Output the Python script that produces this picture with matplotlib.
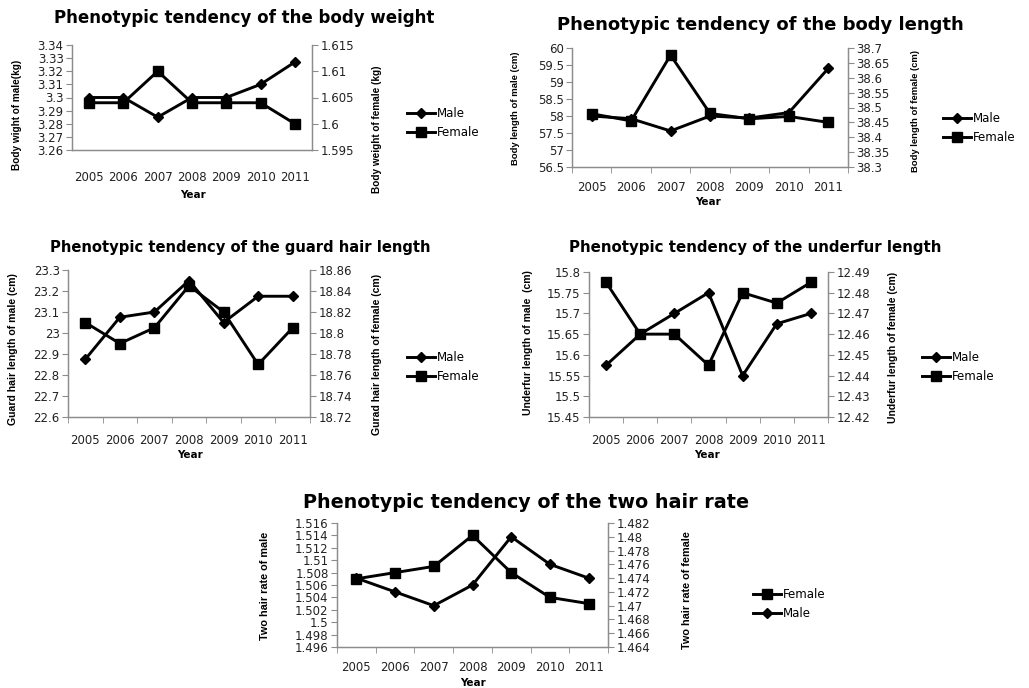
import matplotlib
matplotlib.use("Agg")
import matplotlib.pyplot as plt
from matplotlib.lines import Line2D

W, H = 1029, 688

years = ["2005", "2006", "2007", "2008", "2009", "2010", "2011"]

# body weight
bw_male = [3.300, 3.300, 3.285, 3.300, 3.300, 3.310, 3.327]
bw_female = [1.604, 1.604, 1.610, 1.604, 1.604, 1.604, 1.600]
# body length
bl_male = [58.0, 57.92, 57.56, 58.0, 57.94, 58.1, 59.4]
bl_female = [38.479, 38.455, 38.676, 38.48, 38.462, 38.47, 38.45]
# guard hair length
gh_male = [22.875, 23.075, 23.10, 23.25, 23.05, 23.175, 23.175]
gh_female = [18.81, 18.79, 18.805, 18.845, 18.82, 18.77, 18.805]
# underfur length
uf_male = [15.575, 15.65, 15.70, 15.75, 15.55, 15.675, 15.70]
uf_female = [12.485, 12.46, 12.46, 12.445, 12.48, 12.475, 12.485]
# two hair rate
th_female = [1.507, 1.508, 1.509, 1.514, 1.508, 1.504, 1.503]
th_male = [1.474, 1.472, 1.470, 1.473, 1.480, 1.476, 1.474]

TICK_FONT = "DejaVu Sans"
LABEL_FONT = ["Liberation Sans", "DejaVu Sans"]
SPINE = "#8c8c8c"
TS = 8.5


def fx(px):
    return px / W


def fy(py):
    return 1 - py / H


def make_axes(fig, box):
    l, t, r, b = box
    return fig.add_axes([fx(l), fy(b), fx(r) - fx(l), fy(t) - fy(b)])


def style_axes(ax, ax2, ylim, yticks, ylim2, yticks2, xticks_marks, xpad):
    n = len(years)
    for a in (ax, ax2):
        a.set_xlim(-0.5, n - 0.5)
        a.spines["top"].set_visible(False)
        for s in ("left", "right", "bottom"):
            a.spines[s].set_color(SPINE)
            a.spines[s].set_linewidth(0.9)
        a.patch.set_visible(False)
    ax.set_ylim(*ylim)
    ax.set_yticks(yticks)
    ax.set_yticklabels([f"{v:g}" for v in yticks])
    ax2.set_ylim(*ylim2)
    ax2.set_yticks(yticks2)
    ax2.set_yticklabels([f"{v:g}" for v in yticks2])
    ax.set_xticks(range(n))
    ax.set_xticklabels(years)
    ax.tick_params(axis="x", length=0, pad=xpad, labelsize=TS, colors="#222222")
    if xticks_marks:
        ax.set_xticks([i - 0.5 for i in range(n + 1)], minor=True)
        ax.tick_params(axis="x", which="minor", length=4, color=SPINE)
    ax.tick_params(axis="y", length=4, color=SPINE, labelsize=TS, labelcolor="#222222", pad=2)
    ax2.tick_params(axis="y", length=4, color=SPINE, labelsize=TS, labelcolor="#222222", pad=2)
    for lab in ax.get_xticklabels() + ax.get_yticklabels() + ax2.get_yticklabels():
        lab.set_family(TICK_FONT)


def draw_lines(ax, ax2, left_vals, right_vals, left_marker, right_marker):
    x = range(len(years))
    ms = {"D": 5, "s": 7.5}
    ax.plot(x, left_vals, color="black", lw=2.1, marker=left_marker, ms=ms[left_marker], clip_on=False)
    ax2.plot(x, right_vals, color="black", lw=2.1, marker=right_marker, ms=ms[right_marker], clip_on=False)


def add_legend(fig, labels, markers, xpx, ypx):
    ms = {"D": 5, "s": 7.5}
    handles = [Line2D([], [], color="black", lw=2.1, marker=m, ms=ms[m]) for m in markers]
    fig.legend(handles, labels, loc="center left", bbox_to_anchor=(fx(xpx), fy(ypx)),
               frameon=False, fontsize=TS, handlelength=2.4, handletextpad=0.1,
               labelspacing=0.45, borderaxespad=0, borderpad=0)


def texts(fig, title, tpos, tsize, ylab, ypos, ylab2, ypos2, ylsize, yearpos):
    fig.text(fx(tpos[0]), fy(tpos[1]), title, ha="center", va="center",
             fontsize=tsize, fontweight="bold", family="DejaVu Sans")
    fig.text(fx(ypos[0]), fy(ypos[1]), ylab, rotation=90, ha="center", va="center",
             fontsize=ylsize, fontweight="bold", family=LABEL_FONT)
    fig.text(fx(ypos2[0]), fy(ypos2[1]), ylab2, rotation=90, ha="center", va="center",
             fontsize=ylsize, fontweight="bold", family=LABEL_FONT)
    fig.text(fx(yearpos[0]), fy(yearpos[1]), "Year", ha="center", va="center",
             fontsize=7.5, fontweight="bold", family="DejaVu Sans")


fig = plt.figure(figsize=(W / 100, H / 100), dpi=100)
fig.patch.set_facecolor("white")

# panel 1 : body weight
ax = make_axes(fig, (72, 45, 312, 150))
ax2 = ax.twinx()
style_axes(ax, ax2, (3.26, 3.34), [3.26 + 0.01 * i for i in range(9)],
           (1.595, 1.615), [1.595, 1.6, 1.605, 1.61, 1.615], False, 15)
draw_lines(ax, ax2, bw_male, bw_female, "D", "s")
texts(fig, "Phenotypic tendency of the body weight", (244, 18), 12,
      "Body wight of male(kg)", (17, 115), "Body weight of female (kg)", (377, 129),
      7.2, (193, 195))
add_legend(fig, ["Male", "Female"], ["D", "s"], 407, 123)

# panel 2 : body length
ax = make_axes(fig, (572, 48, 848, 167))
ax2 = ax.twinx()
style_axes(ax, ax2, (56.5, 60), [56.5 + 0.5 * i for i in range(8)],
           (38.3, 38.7), [38.3 + 0.05 * i for i in range(9)], True, 10)
draw_lines(ax, ax2, bl_male, bl_female, "D", "s")
texts(fig, "Phenotypic tendency of the body length", (760, 25), 13,
      "Body length of male (cm)", (515, 108), "Body length of female (cm)", (915, 111),
      6.8, (708, 202))
add_legend(fig, ["Male", "Female"], ["D", "s"], 943, 128)

# panel 3 : guard hair length
ax = make_axes(fig, (68, 270, 310, 417))
ax2 = ax.twinx()
style_axes(ax, ax2, (22.6, 23.3), [22.6 + 0.1 * i for i in range(8)],
           (18.72, 18.86), [18.72 + 0.02 * i for i in range(8)], True, 12)
draw_lines(ax, ax2, gh_male, gh_female, "D", "s")
texts(fig, "Phenotypic tendency of the guard hair length", (240, 247), 10.6,
      "Guard hair length of male (cm)", (13, 349), "Gurad hair length of female (cm)", (377, 354),
      7.6, (190, 455))
add_legend(fig, ["Male", "Female"], ["D", "s"], 407, 367)

# panel 4 : underfur length
ax = make_axes(fig, (589, 272, 828, 417))
ax2 = ax.twinx()
style_axes(ax, ax2, (15.45, 15.8), [15.45 + 0.05 * i for i in range(8)],
           (12.42, 12.49), [12.42 + 0.01 * i for i in range(8)], True, 12)
draw_lines(ax, ax2, uf_male, uf_female, "D", "s")
texts(fig, "Phenotypic tendency of the underfur length", (755, 247), 10.8,
      "Underfur length of male  (cm)", (528, 343), "Underfur length of female (cm)", (893, 347),
      7.5, (707, 455))
add_legend(fig, ["Male", "Female"], ["D", "s"], 922, 367)

# panel 5 : two hair rate
ax = make_axes(fig, (337, 523, 608, 647))
ax2 = ax.twinx()
style_axes(ax, ax2, (1.496, 1.516), [1.496 + 0.002 * i for i in range(11)],
           (1.464, 1.482), [1.464 + 0.002 * i for i in range(10)], True, 10)
draw_lines(ax, ax2, th_female, th_male, "s", "D")
texts(fig, "Phenotypic tendency of the two hair rate", (526, 502), 13.8,
      "Two hair rate of male", (265, 586), "Two hair rate of female", (687, 590),
      7.8, (473, 683))
add_legend(fig, ["Female", "Male"], ["s", "D"], 753, 604)

fig.savefig("out.png", dpi=100)
